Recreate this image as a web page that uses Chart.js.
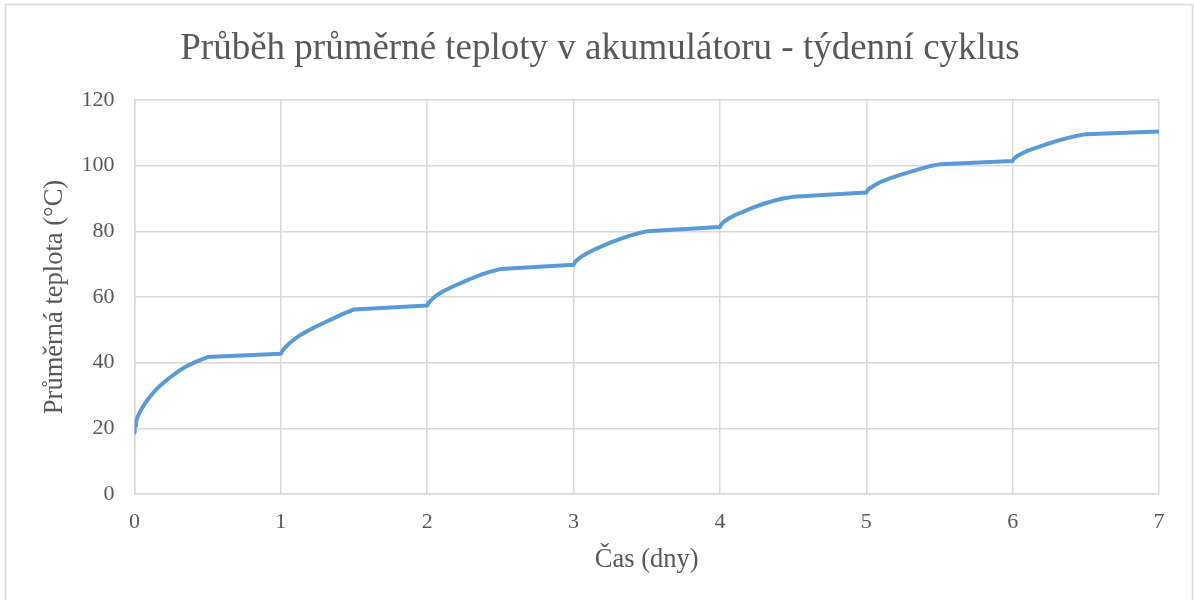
<!DOCTYPE html>
<html lang="cs">
<head>
<meta charset="utf-8">
<title>Průběh průměrné teploty v akumulátoru - týdenní cyklus</title>
<script src="https://cdn.jsdelivr.net/npm/chart.js@4/dist/chart.umd.min.js"></script>
<style>
  html, body { margin: 0; padding: 0; background: #ffffff; }
  #wrap { position: relative; width: 1194px; height: 600px; }
</style>
</head>
<body>
<div id="wrap"><canvas id="c" width="1194" height="600"></canvas></div>
<script>
// Čas v dnech a průměrná teplota akumulátoru (°C)
const days = [
  0, 0.004, 0.01, 0.02, 0.035, 0.05, 0.07, 0.095, 0.12, 0.15, 0.183, 0.24, 0.297, 0.35, 0.41, 0.46, 0.5, 1.0,
  1.006, 1.015, 1.03, 1.06, 1.097, 1.14, 1.188, 1.245, 1.302, 1.36, 1.416, 1.46, 1.5, 2.0,
  2.006, 2.015, 2.03, 2.06, 2.1, 2.134, 2.19, 2.248, 2.305, 2.362, 2.43, 2.5, 3.0,
  3.006, 3.015, 3.03, 3.06, 3.1, 3.15, 3.2, 3.26, 3.32, 3.38, 3.44, 3.5, 4.0,
  4.006, 4.015, 4.03, 4.06, 4.1, 4.16, 4.23, 4.3, 4.366, 4.43, 4.5, 5.0,
  5.006, 5.015, 5.03, 5.06, 5.1, 5.16, 5.232, 5.3, 5.369, 5.43, 5.5, 6.0,
  6.006, 6.015, 6.03, 6.06, 6.1, 6.165, 6.235, 6.3, 6.372, 6.44, 6.5, 7.0
];
const temperature = [
  18.7, 20.8, 22.0, 23.4, 24.8, 26.0, 27.5, 29.0, 30.4, 31.9, 33.3, 35.4, 37.3, 38.8, 40.1, 41.0, 41.7, 42.7,
  43.2, 43.9, 44.7, 46.0, 47.3, 48.6, 49.8, 51.1, 52.3, 53.5, 54.7, 55.5, 56.2, 57.4,
  57.9, 58.5, 59.2, 60.4, 61.5, 62.3, 63.5, 64.6, 65.7, 66.7, 67.7, 68.5, 69.8,
  70.3, 70.9, 71.5, 72.5, 73.5, 74.6, 75.6, 76.7, 77.7, 78.6, 79.4, 80.0, 81.3,
  81.8, 82.4, 83.0, 83.9, 84.9, 86.0, 87.3, 88.4, 89.3, 90.0, 90.5, 91.8,
  92.3, 92.8, 93.3, 94.1, 95.1, 96.1, 97.2, 98.1, 99.0, 99.8, 100.4, 101.4,
  101.9, 102.4, 102.9, 103.6, 104.5, 105.5, 106.6, 107.5, 108.4, 109.1, 109.6, 110.4
];

const xTicks = [0, 1, 2, 3, 4, 5, 6, 7];
const yTicks = [0, 20, 40, 60, 80, 100, 120];

const titleText = 'Průběh průměrné teploty v akumulátoru - týdenní cyklus';
const xTitle = 'Čas (dny)';
const yTitle = 'Průměrná teplota (°C)';

const serif = '"Liberation Serif", "Times New Roman", "DejaVu Serif", serif';
const textGrey = '#595959';
const gridGrey = '#d9d9d9';

// white background, thin frame and the centred chart heading
const framePlugin = {
  id: 'frame',
  beforeDraw(chart) {
    const ctx = chart.ctx;
    ctx.save();
    ctx.fillStyle = '#ffffff';
    ctx.fillRect(0, 0, chart.width, chart.height);
    ctx.strokeStyle = gridGrey;
    ctx.lineWidth = 1.5;
    ctx.strokeRect(5.5, 4.5, chart.width - 7, chart.height + 10);
    ctx.fillStyle = textGrey;
    ctx.font = '37px ' + serif;
    ctx.textAlign = 'center';
    ctx.textBaseline = 'middle';
    ctx.fillText(titleText, 600, 49);
    ctx.restore();
  }
};

const points = days.map((d, i) => ({ x: d, y: temperature[i] }));

new Chart(document.getElementById('c'), {
  type: 'line',
  data: {
    datasets: [{
      data: points,
      borderColor: '#5b9bd5',
      borderWidth: 4,
      pointRadius: 0,
      tension: 0,
      fill: false,
      borderCapStyle: 'round',
      borderJoinStyle: 'round'
    }]
  },
  options: {
    responsive: false,
    animation: false,
    layout: { padding: { left: 39, right: 35, top: 100, bottom: 24 } },
    plugins: {
      legend: { display: false },
      tooltip: { enabled: false },
      title: { display: false }
    },
    scales: {
      x: {
        type: 'linear',
        min: 0,
        max: 7,
        afterBuildTicks(scale) { scale.ticks = xTicks.map(v => ({ value: v })); },
        afterFit(scale) { scale.height = 82; },
        ticks: {
          color: textGrey,
          font: { family: serif, size: 22 },
          padding: 15,
          maxRotation: 0
        },
        grid: { color: gridGrey, lineWidth: 1.5, drawTicks: false },
        border: { color: gridGrey, width: 1.5 },
        title: {
          display: true,
          text: xTitle,
          color: textGrey,
          font: { family: serif, size: 26.5 },
          padding: { top: 0, bottom: 0 }
        }
      },
      y: {
        min: 0,
        max: 120,
        afterBuildTicks(scale) { scale.ticks = yTicks.map(v => ({ value: v })); },
        afterFit(scale) { scale.width = 95.5; },
        ticks: {
          color: textGrey,
          font: { family: serif, size: 22 },
          padding: 20
        },
        grid: { color: gridGrey, lineWidth: 1.5, drawTicks: false },
        border: { color: gridGrey, width: 1.5 },
        title: {
          display: true,
          text: yTitle,
          color: textGrey,
          font: { family: serif, size: 26.5 },
          padding: { top: 0, bottom: 0 }
        }
      }
    }
  },
  plugins: [framePlugin]
});
</script>
</body>
</html>
